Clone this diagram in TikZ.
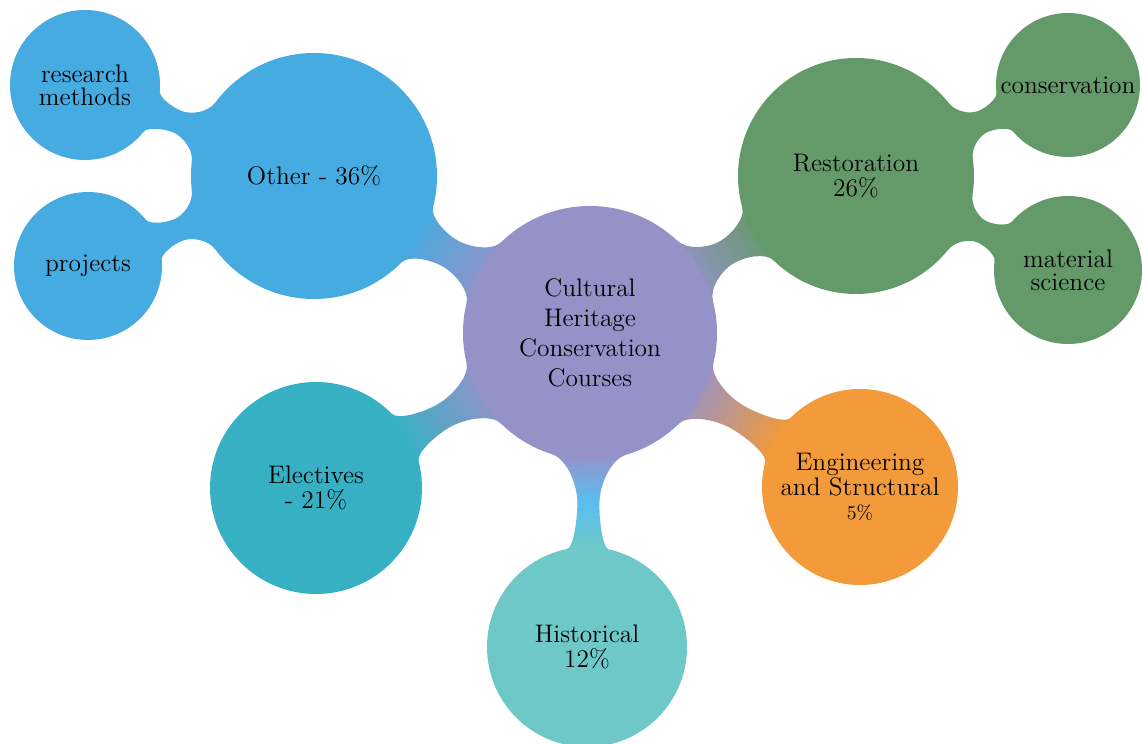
\documentclass[tikz,border=0pt]{standalone}
\usepackage{fontspec}
\usetikzlibrary{calc}
\definecolor{cpurple}{RGB}{149,146,200}
\definecolor{cblue}{RGB}{69,171,224}
\definecolor{cgreen}{RGB}{100,153,106}
\definecolor{cteal}{RGB}{56,176,196}
\definecolor{chist}{RGB}{110,200,200}
\definecolor{csky}{RGB}{90,190,240}
\definecolor{corange}{RGB}{243,154,58}
% connection bar between two circular concepts
% #1 from node, #2 to node, #3 r1, #4 r2, #5 a1, #6 a2, #7 half width, #8 fill options
\makeatletter
\newcommand\mmneck[8]{%
  \pgfmathanglebetweenpoints{\pgfpointanchor{#1}{center}}{\pgfpointanchor{#2}{center}}%
  \let\nth\pgfmathresult
  \pgfpointdiff{\pgfpointanchor{#1}{center}}{\pgfpointanchor{#2}{center}}%
  \edef\ndx{\the\pgf@x}\edef\ndy{\the\pgf@y}%
  \pgfmathveclen{\ndx}{\ndy}%
  \pgfmathsetmacro\ngap{2*\pgfmathresult-#3-#4}%
  \pgfmathsetmacro\nm{0.22*\ngap}%
  \pgfmathsetmacro\kA{0.6*(#3*sin(#5)-#7)}%
  \pgfmathsetmacro\kB{0.6*(#4*sin(#6)-#7)}%
  \pgfmathsetmacro\nsa{\nth-90}%
  \coordinate (nA) at ($(#1)+(\nth:#3)$);
  \coordinate (nB) at ($(#2)+(\nth+180:#4)$);
  \coordinate (nM) at ($(nA)!0.5!(nB)$);
  \path[#8] ($(#1)+(\nth+#5:#3)$)
    .. controls ($(#1)+(\nth+#5:#3)+(\nth+#5-90:\kA)$) and ($(nM)+(\nth+90:#7)+(\nth+180:\nm)$) ..
    ($(nM)+(\nth+90:#7)$)
    .. controls ($(nM)+(\nth+90:#7)+(\nth:\nm)$) and ($(#2)+(\nth+180-#6:#4)+(\nth+270-#6:\kB)$) ..
    ($(#2)+(\nth+180-#6:#4)$) -- ($(#2)+(\nth+180+#6:#4)$)
    .. controls ($(#2)+(\nth+180+#6:#4)+(\nth+90+#6:\kB)$) and ($(nM)+(\nth-90:#7)+(\nth:\nm)$) ..
    ($(nM)+(\nth-90:#7)$)
    .. controls ($(nM)+(\nth-90:#7)+(\nth+180:\nm)$) and ($(#1)+(\nth-#5:#3)+(\nth-#5+90:\kA)$) ..
    ($(#1)+(\nth-#5:#3)$) -- cycle;}
\makeatother
\tikzset{
  concept/.style={circle, inner sep=0pt, align=center, text=black},
  rootfont/.style={font=\fontsize{12.7}{15}\selectfont},
  onefont/.style={font=\fontsize{12.7}{12.2}\selectfont},
  twofont/.style={font=\fontsize{12.7}{11.6}\selectfont},
}
\begin{document}
\begin{tikzpicture}[x=0.5pt,y=0.5pt]
\path[use as bounding box] (0,0) rectangle (1142,744);
% node centres
\coordinate (C) at (590,411);
\coordinate (O) at (314,568);
\coordinate (R) at (85,659);
\coordinate (P) at (88,478);
\coordinate (S) at (856,568);
\coordinate (K) at (1068,659);
\coordinate (M) at (1068,474);
\coordinate (E) at (316,256);
\coordinate (H) at (587,97);
\coordinate (G) at (860,257);
% connection bars
\mmneck{C}{O}{127}{123}{16}{15}{15}{bottom color=cpurple, top color=cblue, shading angle=\nsa}
\mmneck{C}{S}{127}{118}{16}{15}{13}{bottom color=cpurple, top color=cgreen, shading angle=\nsa}
\mmneck{C}{E}{127}{106}{16}{15}{13}{bottom color=cpurple, top color=cteal, shading angle=\nsa}
\mmneck{C}{H}{127}{100}{17}{12}{11}{bottom color=cpurple, top color=chist, middle color=csky, shading angle=\nsa}
\mmneck{C}{G}{127}{98}{16}{15}{13}{bottom color=cpurple, top color=corange, shading angle=\nsa}
\mmneck{O}{R}{123}{75}{15}{17}{11.5}{fill=cblue}
\mmneck{O}{P}{123}{74}{15}{17}{11.5}{fill=cblue}
\mmneck{S}{K}{118}{72}{15}{17}{11.5}{fill=cgreen}
\mmneck{S}{M}{118}{74}{15}{17}{11.5}{fill=cgreen}
% concepts
\node[concept, rootfont, fill=cpurple, minimum size=127pt] (root) at (C) {Cultural\\Heritage\\Conservation\\Courses};
\node[concept, onefont, fill=cblue, minimum size=123pt] (other) at (O) {Other - 36\%};
\node[concept, twofont, fill=cblue, minimum size=75pt] (research) at (R) {research\\methods};
\node[concept, twofont, fill=cblue, minimum size=74pt] (projects) at (P) {projects};
\node[concept, onefont, fill=cgreen, minimum size=118pt] (restoration) at (S) {Restoration\\26\%};
\node[concept, twofont, fill=cgreen, minimum size=72pt] (conservation) at (K) {conservation};
\node[concept, twofont, fill=cgreen, minimum size=74pt] (material) at (M) {material\\science};
\node[concept, onefont, fill=cteal, minimum size=106pt] (electives) at (E) {Electives\\- 21\%};
\node[concept, onefont, fill=chist, minimum size=100pt] (historical) at (H) {Historical\\12\%};
\node[concept, onefont, fill=corange, minimum size=98pt] (engineering) at (G) {Engineering\\and Structural\\{\fontsize{9.8}{12}\selectfont 5\%}};
\end{tikzpicture}
\end{document}
